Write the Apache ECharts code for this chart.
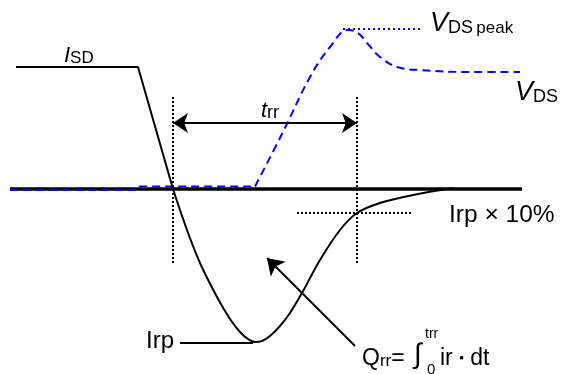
<!DOCTYPE html>
<html>
<head>
<meta charset="utf-8">
<script src="https://cdn.jsdelivr.net/npm/echarts@6/dist/echarts.min.js"></script>
<style>
html,body{margin:0;padding:0;background:#fff;}
#c{width:567px;height:374px;}
</style>
</head>
<body>
<div id="c"></div>
<script>
// Diagram coordinates (x: time, y: level; y grows downward)
const isdStep = [[16,67],[138,67],[173,189]];
const irCurve = [[173,189],[187,230],[200,263],[217,297],[230,319],[240,332],[248,339],[255,342],[262,341],[270,336],[280,326],[290,313],[302,293],[320,260],[340,230],[357,213],[380,203],[413,195],[453,188]];
const baseline = [[10,189],[522,189]];
const vdsFlat = [[10,190],[133,190],[140,186.5],[255,186.5]];
const vdsRise = [[255,186.5],[283,132],[310,77],[330,47],[348,30],[358,33],[367,43],[380,57],[397,67],[420,70],[470,72],[520,72]];
const vdsPeak = [[343,29],[420,29]];
const trrStart = [[173,97],[173,263]];
const trrEnd = [[357,97],[357,263]];
const tenPct = [[297,213],[413,213]];
const irpLeader = [[180,343],[253,343]];
const trrArrow = [[173,123],[357,123]];
const qrrArrow = [[355,346],[267,258]];

const FONT = '"Liberation Sans", Arial, sans-serif';
const chart = echarts.init(document.getElementById('c'), null, {renderer:'canvas'});

function line(data, color, width, type, smooth) {
  return {type:'line', data:data, showSymbol:false, symbol:'none', smooth:smooth||false,
    lineStyle:{color:color, width:width, type:type||'solid', cap:'butt'}, silent:true, z:2};
}
function f(px, italic) { return (italic ? 'italic ' : '') + px + 'px ' + FONT; }

const option = {
  animation:false,
  backgroundColor:'#ffffff',
  grid:{left:0,right:0,top:0,bottom:0},
  xAxis:{type:'value',min:0,max:567,show:false},
  yAxis:{type:'value',min:0,max:374,inverse:true,show:false},
  series:[
    line(baseline,'#000',3.5),
    line(isdStep,'#000',2),
    line(irCurve,'#000',2,'solid',0.35),
    line(vdsFlat,'#0000ff',2,[8,5]),
    line(vdsRise,'#0000ff',2,[8,5],0.4),
    line(vdsPeak,'#0000ff',2,[2,3]),
    line(trrStart,'#000',2,[2,2]),
    line(trrEnd,'#000',2,[2,2]),
    line(tenPct,'#000',2,[2,2]),
    line(irpLeader,'#000',2),
    {type:'lines',coordinateSystem:'cartesian2d',polyline:false,silent:true,
      symbol:['arrow','arrow'],symbolSize:15,
      lineStyle:{color:'#000',width:2,opacity:1},
      data:[{coords:trrArrow}]},
    {type:'lines',coordinateSystem:'cartesian2d',polyline:false,silent:true,
      symbol:['none','arrow'],symbolSize:16,
      lineStyle:{color:'#000',width:2,opacity:1},
      data:[{coords:qrrArrow}]}
  ],
  graphic:[
    {type:'text',x:64,y:67,style:{text:'{i|I}{s|SD}',verticalAlign:'bottom',fill:'#000',
      rich:{i:{font:f(22,true),verticalAlign:'bottom',lineHeight:22},
            s:{font:f(17),verticalAlign:'bottom',lineHeight:18}}}},
    {type:'text',x:261,y:122,style:{text:'{i|t}{s|rr}',verticalAlign:'bottom',fill:'#000',
      rich:{i:{font:f(22,true),verticalAlign:'bottom',lineHeight:22},
            s:{font:f(18),verticalAlign:'bottom',lineHeight:19}}}},
    {type:'text',x:430,y:37,style:{text:'{i|V}{s|DS} {p|peak}',verticalAlign:'bottom',fill:'#000',
      rich:{i:{font:f(27,true),verticalAlign:'bottom',lineHeight:27},
            s:{font:f(18),verticalAlign:'bottom',lineHeight:19},
            p:{font:f(17),verticalAlign:'bottom',lineHeight:18}}}},
    {type:'text',x:515,y:106,style:{text:'{i|V}{s|DS}',verticalAlign:'bottom',fill:'#000',
      rich:{i:{font:f(27,true),verticalAlign:'bottom',lineHeight:27},
            s:{font:f(18),verticalAlign:'bottom',lineHeight:19}}}},
    {type:'text',x:449,y:215,style:{text:'Irp × 10%',font:f(24.5),fill:'#000',verticalAlign:'middle'}},
    {type:'text',x:146,y:341,style:{text:'Irp',font:f(24),fill:'#000',verticalAlign:'middle'}},
    {type:'text',x:362,y:370,style:{text:'{q|Q}{s|rr}{m|=}',verticalAlign:'bottom',fill:'#000',
      rich:{q:{font:f(23),verticalAlign:'bottom',lineHeight:23},
            s:{font:f(17),verticalAlign:'bottom',lineHeight:18},
            m:{font:f(23),verticalAlign:'bottom',lineHeight:23}}}},
    {type:'text',x:414,y:369,style:{text:'∫',font:f(28),fill:'#000',verticalAlign:'bottom'}},
    {type:'text',x:425,y:327,style:{text:'trr',font:f(14),fill:'#000',verticalAlign:'top'}},
    {type:'text',x:427,y:362,style:{text:'0',font:f(15),fill:'#000',verticalAlign:'top'}},
    {type:'text',x:440,y:370,style:{text:'{m|ir }{d|▪}{m| dt}',verticalAlign:'bottom',fill:'#000',
      rich:{m:{font:f(23),verticalAlign:'bottom',lineHeight:23},
            d:{font:f(13),verticalAlign:'middle',lineHeight:23}}}}
  ]
};
chart.setOption(option);
</script>
</body>
</html>
